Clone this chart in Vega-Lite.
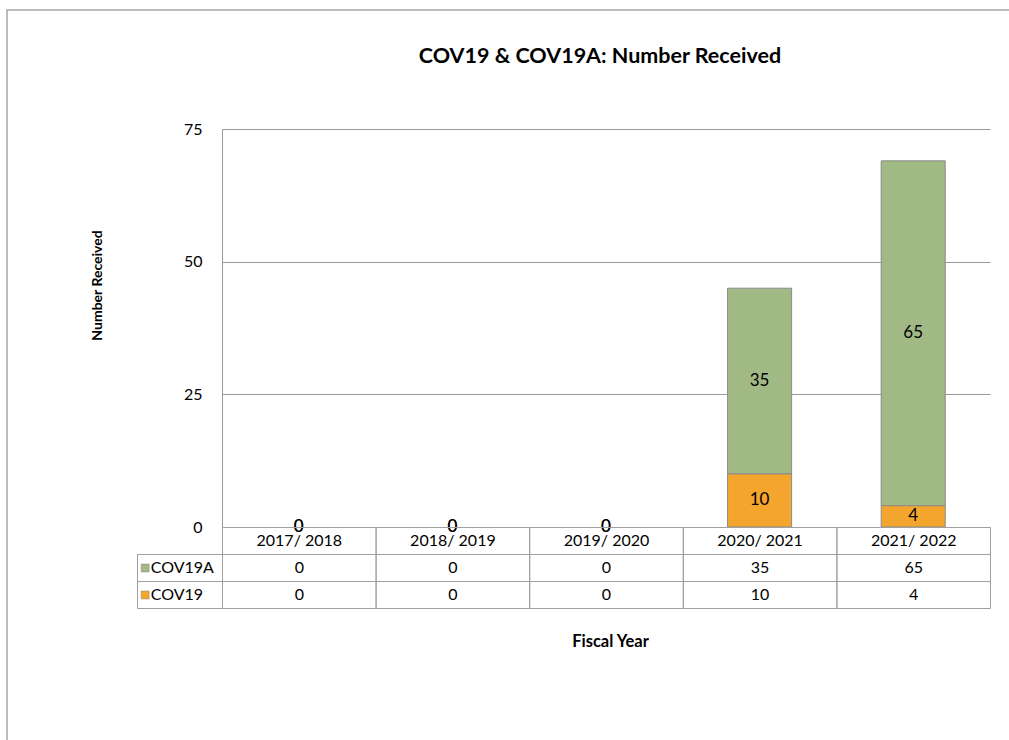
{
  "$schema": "https://vega.github.io/schema/vega-lite/v6.json",
  "width": 1005,
  "height": 733,
  "autosize": {"type": "none"},
  "padding": {"left": 7, "top": 10, "right": -3, "bottom": -3},
  "background": "white",
  "config": {
    "font": "Lato",
    "view": {"stroke": "#a6a6a6", "strokeWidth": 1.5}
  },
  "title": {
    "text": "COV19 & COV19A: Number Received",
    "font": "Lato",
    "fontSize": 21.5,
    "fontWeight": "bold",
    "color": "black",
    "anchor": "middle",
    "offset": -68,
    "baseline": "middle",
    "dx": 90.5
  },
  "data": {
    "values": [
      {"year": "2017/ 2018", "series": "COV19A", "value": 0},
      {"year": "2017/ 2018", "series": "COV19", "value": 0},
      {"year": "2018/ 2019", "series": "COV19A", "value": 0},
      {"year": "2018/ 2019", "series": "COV19", "value": 0},
      {"year": "2019/ 2020", "series": "COV19A", "value": 0},
      {"year": "2019/ 2020", "series": "COV19", "value": 0},
      {"year": "2020/ 2021", "series": "COV19A", "value": 35},
      {"year": "2020/ 2021", "series": "COV19", "value": 10},
      {"year": "2021/ 2022", "series": "COV19A", "value": 65},
      {"year": "2021/ 2022", "series": "COV19", "value": 4}
    ]
  },
  "resolve": {"scale": {"x": "independent", "y": "independent"}},
  "layer": [
    {
      "encoding": {
        "x": {
          "field": "year", "type": "nominal", "sort": null,
          "scale": {"domain": ["2017/ 2018", "2018/ 2019", "2019/ 2020", "2020/ 2021", "2021/ 2022"], "range": [215, 983], "paddingInner": 0, "paddingOuter": 0},
          "axis": null
        },
        "order": {"field": "series", "type": "nominal", "sort": "ascending"}
      },
      "layer": [
        {
          "transform": [{"filter": "datum.value > 0"}],
          "mark": {"type": "bar", "width": {"band": 0.417}, "stroke": "#8a8a8a", "strokeWidth": 1},
          "encoding": {
            "y": {
              "field": "value", "type": "quantitative", "stack": "zero",
              "scale": {"domain": [0, 75], "range": [517, 119], "nice": false, "zero": true},
              "axis": {
                "orient": "left", "offset": -215, "values": [0, 25, 50, 75],
                "grid": true, "gridColor": "#9a9a9a", "gridWidth": 1,
                "domain": true, "domainColor": "#9a9a9a", "domainWidth": 1,
                "ticks": false, "labelPadding": 20, "labelFontSize": 16, "labelColor": "black", "labelFont": "Lato",
                "title": "Number Received", "titleFont": "Lato", "titleFontSize": 14, "titleFontWeight": "bold", "titleColor": "black",
                "titleX": -125, "titleY": 275, "titleAlign": "center", "titleBaseline": "middle", "titleAngle": -90
              }
            },
            "color": {
              "field": "series", "type": "nominal",
              "scale": {"domain": ["COV19A", "COV19"], "range": ["#a0b985", "#f4a52e"]},
              "legend": null
            }
          }
        },
        {
          "mark": {"type": "text", "fontSize": 17, "color": "black", "baseline": "middle"},
          "encoding": {
            "y": {
              "field": "value", "type": "quantitative", "stack": "zero", "bandPosition": 0.5,
              "axis": {
                "orient": "left", "offset": -215, "values": [0, 25, 50, 75],
                "grid": true, "gridColor": "#9a9a9a", "gridWidth": 1,
                "domain": true, "domainColor": "#9a9a9a", "domainWidth": 1,
                "ticks": false, "labelPadding": 20, "labelFontSize": 16, "labelColor": "black", "labelFont": "Lato",
                "title": "Number Received", "titleFont": "Lato", "titleFontSize": 14, "titleFontWeight": "bold", "titleColor": "black",
                "titleX": -125, "titleY": 275, "titleAlign": "center", "titleBaseline": "middle", "titleAngle": -90
              }
            },
            "detail": {"field": "series", "type": "nominal"},
            "text": {"field": "value", "type": "quantitative"}
          }
        }
      ]
    },
    {
      "encoding": {
        "x": {
          "field": "year", "type": "nominal", "sort": null,
          "scale": {"domain": ["2017/ 2018", "2018/ 2019", "2019/ 2020", "2020/ 2021", "2021/ 2022"], "range": [215.5, 983.5], "paddingInner": 0, "paddingOuter": 0},
          "axis": {
            "orient": "bottom", "offset": -135, "labels": false, "ticks": false, "domain": false, "grid": false,
            "title": "Fiscal Year", "titleFont": "Lato", "titleFontSize": 16.5, "titleFontWeight": "bold", "titleColor": "black",
            "titleX": 603, "titleY": 33, "titleAlign": "center", "titleBaseline": "middle"
          }
        }
      },
      "layer": [
        {
          "transform": [{"filter": "datum.series === 'COV19'"}],
          "mark": {"type": "rect", "fill": "transparent", "stroke": "#a0a0a0", "strokeWidth": 1},
          "encoding": {
            "y": {"datum": "header", "type": "nominal",
              "scale": {"domain": ["header", "COV19A", "COV19"], "range": [517.5, 598.5], "paddingInner": 0, "paddingOuter": 0},
              "axis": null}
          }
        },
        {
          "transform": [{"filter": "datum.series === 'COV19'"}],
          "mark": {"type": "text", "fontSize": 16, "color": "black", "baseline": "middle"},
          "encoding": {
            "y": {"datum": "header", "type": "nominal", "axis": null},
            "text": {"field": "year", "type": "nominal"}
          }
        },
        {
          "mark": {"type": "rect", "fill": "transparent", "stroke": "#a0a0a0", "strokeWidth": 1},
          "encoding": {
            "y": {"field": "series", "type": "nominal", "axis": null}
          }
        },
        {
          "mark": {"type": "text", "fontSize": 16, "color": "black", "baseline": "middle"},
          "encoding": {
            "y": {"field": "series", "type": "nominal", "axis": null},
            "text": {"field": "value", "type": "quantitative"}
          }
        }
      ]
    },
    {
      "transform": [{"filter": "datum.year === '2017/ 2018'"}],
      "encoding": {
        "y": {"field": "series", "type": "nominal",
          "scale": {"domain": ["COV19A", "COV19"], "range": [544.5, 598.5], "paddingInner": 0, "paddingOuter": 0},
          "axis": null}
      },
      "layer": [
        {
          "mark": {"type": "rect", "fill": "transparent", "stroke": "#a0a0a0", "strokeWidth": 1},
          "encoding": {
            "x": {"datum": 0, "type": "quantitative", "scale": {"domain": [0, 1], "range": [130.5, 215.5], "nice": false, "zero": false}, "axis": null},
            "x2": {"datum": 1}
          }
        },
        {
          "mark": {"type": "square", "size": 64, "opacity": 1, "stroke": "#888888", "strokeWidth": 0.5},
          "encoding": {
            "x": {"datum": 0.09, "type": "quantitative"},
            "color": {"field": "series", "type": "nominal", "legend": null}
          }
        },
        {
          "mark": {"type": "text", "align": "left", "fontSize": 16, "color": "black", "baseline": "middle"},
          "encoding": {
            "x": {"datum": 0.155, "type": "quantitative"},
            "text": {"field": "series", "type": "nominal"}
          }
        }
      ]
    }
  ]
}
